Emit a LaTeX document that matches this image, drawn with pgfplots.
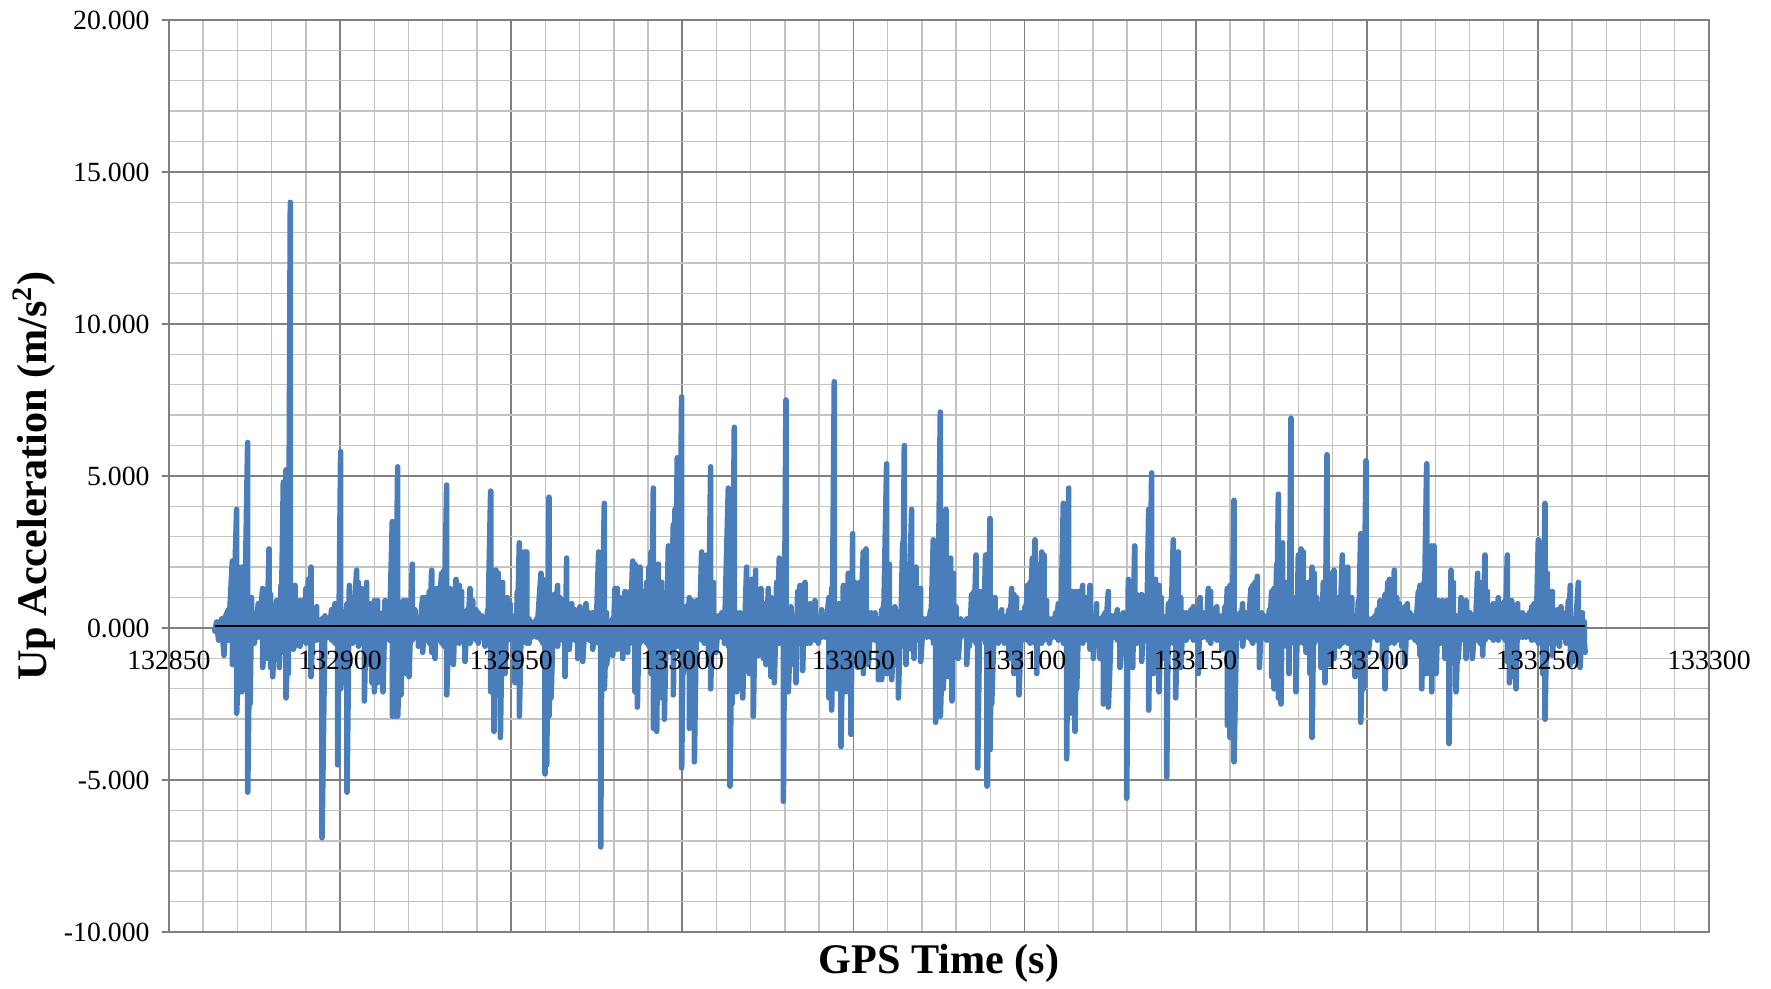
\documentclass[border=0pt]{standalone}
\usepackage{fontspec}
\setmainfont{Liberation Serif}
\usepackage{pgfplots}
\pgfplotsset{compat=1.18}
\definecolor{xlblue}{RGB}{74,126,187}
\definecolor{majgrid}{RGB}{128,128,128}
\definecolor{mingrid}{RGB}{195,195,195}
% tick labels drawn above the data, grid below it
\pgfplotsset{
  layers/labels on top/.define layer set={axis background,axis grid,axis ticks,axis lines,pre main,main,axis tick labels,axis descriptions,axis foreground}{/pgfplots/layers/standard},
}
\begin{document}
\begin{tikzpicture}
\begin{axis}[
  set layers=labels on top,
  name=ax, scale only axis, width=154mm, height=91.2mm,
  xmin=132850, xmax=133300, ymin=-10, ymax=20,
  xtick distance=50, ytick distance=5,
  minor x tick num=4, minor y tick num=4,
  grid=both,
  major grid style={majgrid, line width=0.5pt},
  minor grid style={mingrid, line width=0.4pt},
  axis line style={majgrid, line width=0.5pt},
  tick align=outside, major tick length=0.7mm, minor tick length=0pt,
  ytick pos=left, ytick style={majgrid, line width=0.5pt},
  xtick style={draw=none},
  scaled x ticks=false, scaled y ticks=false,
  /pgf/number format/assume math mode=true,
  xticklabel style={font=\fontsize{7.9}{9}\selectfont, anchor=center, yshift=27.9mm,
    /pgf/number format/.cd, fixed, precision=0, 1000 sep={}},
  yticklabel style={font=\fontsize{7.9}{9}\selectfont,
    /pgf/number format/.cd, fixed, fixed zerofill, precision=3},
  xlabel={GPS Time (s)},
  xlabel style={font=\fontsize{12}{14}\selectfont\bfseries, at={(axis description cs:0.5,0)}, anchor=center, yshift=-3.1mm},
  ylabel={Up Acceleration (m/s\textsuperscript{2})},
  ylabel style={font=\fontsize{12}{14}\selectfont\bfseries, at={(axis description cs:-0.0877,0.5)}, anchor=center},
]
% up acceleration (spike tops and bottoms)
\addplot[xlblue, line width=1.6pt, line join=round, line cap=round] coordinates {
(132863.4,-0.1)(132863.93,0.2)(132864.5,-0.4)(132865.39,0.3)(132866.07,-0.9)(132866.6,0.4)(132867.34,0.6)(132867.34,-0.4)
(132868.51,2.2)(132868.51,-1.2)(132869.77,3.9)(132869.77,-2.8)(132871.24,2.0)(132871.24,-2.1)(132872.01,1.9)(132872.01,-0.6)
(132872.99,6.1)(132872.99,-5.4)(132873.67,0.8)(132873.67,-2.5)(132874.16,1.0)(132874.16,-0.4)(132874.94,0.3)(132874.94,-0.5)
(132876.10,0.8)(132876.10,-0.3)(132877.37,1.3)(132877.37,-1.3)(132878.54,0.5)(132878.54,-1.0)(132879.22,2.6)(132879.22,-0.4)
(132879.71,1.1)(132879.71,-1.3)(132880.29,0.4)(132880.29,-1.6)(132881.46,0.9)(132881.46,-0.5)(132882.24,0.5)(132882.24,-1.3)
(132882.73,1.4)(132882.73,-0.5)(132883.41,4.8)(132883.41,-0.8)(132884.19,5.2)(132884.19,-2.3)(132884.87,0.5)(132884.87,-1.5)
(132885.46,14.0)(132885.46,-0.5)(132886.33,1.2)(132886.33,-0.7)(132886.82,1.4)(132886.82,-0.6)(132887.50,0.8)(132887.50,-0.3)
(132888.28,0.9)(132888.28,-0.6)(132889.25,0.9)(132889.25,-0.4)(132890.03,1.3)(132890.03,-0.5)(132890.72,1.6)(132890.72,-0.4)
(132891.49,2.0)(132891.49,-1.6)(132892.18,0.5)(132892.18,-0.3)(132893.15,0.7)(132893.15,-0.4)(132894.71,0.3)(132894.71,-6.9)
(132895.59,0.4)(132895.59,-0.3)(132896.56,0.3)(132896.56,-0.3)(132897.53,0.6)(132897.53,-0.4)(132898.51,0.8)(132898.51,-0.5)
(132899.29,0.3)(132899.29,-4.5)(132900.16,5.8)(132900.16,-2.0)(132902.01,0.8)(132902.01,-5.4)(132902.70,1.4)(132902.70,-0.5)
(132903.67,1.0)(132903.67,-0.5)(132904.84,1.9)(132904.84,-0.4)(132905.33,1.5)(132905.33,-0.6)(132906.20,1.3)(132906.20,-0.5)
(132907.08,0.5)(132907.08,-2.4)(132907.76,1.5)(132907.76,-0.4)(132908.54,0.8)(132908.54,-1.2)(132909.32,0.4)(132909.32,-1.8)
(132910.00,0.9)(132910.00,-2.1)(132910.97,0.9)(132910.97,-1.8)(132912.53,0.5)(132912.53,-2.1)(132913.12,0.9)(132913.12,-0.4)
(132914.38,0.6)(132914.38,-0.4)(132915.26,3.5)(132915.26,-2.9)(132916.04,0.8)(132916.04,-2.9)(132916.82,5.3)(132916.82,-2.9)
(132917.79,0.5)(132917.79,-2.2)(132918.47,0.9)(132918.47,-0.4)(132919.45,0.9)(132919.45,-1.5)(132920.13,0.4)(132920.13,-1.6)
(132921.10,2.1)(132921.10,-0.4)(132921.88,0.6)(132921.88,-0.3)(132922.86,0.3)(132922.86,-0.6)(132924.12,1.0)(132924.12,-0.8)
(132925.00,1.0)(132925.00,-0.4)(132926.07,1.2)(132926.07,-0.5)
(132926.76,1.9)(132926.76,-0.8)(132927.73,0.5)(132927.73,-1.0)(132928.22,1.3)(132928.22,-0.4)(132929.68,1.8)(132929.68,-0.5)
(132930.36,1.9)(132930.36,-0.6)(132931.14,4.7)(132931.14,-2.2)(132932.11,1.3)(132932.11,-1.0)(132933.09,0.5)(132933.09,-1.2)
(132933.87,1.6)(132933.87,-0.4)(132934.84,1.4)(132934.84,-0.5)(132935.52,1.2)(132935.52,-0.4)(132936.50,0.5)(132936.50,-1.1)
(132937.18,0.6)(132937.18,-0.4)(132937.96,1.3)(132937.96,-0.5)(132938.74,0.9)(132938.74,-0.3)(132939.71,0.6)(132939.71,-0.4)
(132940.39,0.5)(132940.39,-0.5)(132941.37,0.4)(132941.37,-0.3)(132942.34,0.3)(132942.34,-0.6)(132943.12,0.6)(132943.12,-0.4)
(132944.00,4.5)(132944.00,-2.1)(132944.97,0.5)(132944.97,-3.4)(132945.56,1.9)(132945.56,-0.6)(132946.24,1.8)(132946.24,-0.8)
(132946.82,0.5)(132946.82,-3.6)(132947.50,1.5)(132947.50,-0.5)(132948.18,0.5)(132948.18,-1.5)(132948.87,1.0)(132948.87,-0.4)
(132949.65,0.8)(132949.65,-0.3)(132950.13,0.3)(132950.13,-0.4)(132951.11,0.4)(132951.11,-1.8)(132951.79,1.2)(132951.79,-0.4)
(132952.37,2.8)(132952.37,-2.9)(132953.06,1.0)(132953.06,-0.5)(132953.83,2.5)(132953.83,-0.4)(132954.52,2.5)(132954.52,-0.5)
(132955.20,0.3)(132955.20,-0.5)(132955.98,0.2)(132955.98,-0.3)(132957.44,0.3)(132957.44,-0.3)(132958.70,1.8)(132958.70,-0.4)
(132959.19,1.6)(132959.19,-0.5)(132959.87,0.4)(132959.87,-4.8)(132960.36,0.3)(132960.36,-4.5)(132961.04,4.3)(132961.04,-2.9)
(132961.63,0.4)(132961.63,-2.3)(132962.50,1.1)(132962.50,-0.4)(132963.57,1.4)(132963.57,-0.6)(132964.26,1.0)(132964.26,-0.4)
(132965.03,0.9)(132965.03,-0.4)(132965.72,0.3)(132965.72,-1.6)(132966.20,2.3)(132966.20,-0.4)(132966.98,0.4)(132966.98,-0.7)
(132967.67,0.8)(132967.67,-0.3)(132968.64,0.6)(132968.64,-0.4)(132969.42,0.3)(132969.42,-1.0)(132970.10,0.7)(132970.10,-0.3)
(132970.88,0.6)(132970.88,-1.1)(132971.85,0.8)(132971.85,-0.3)(132972.83,0.5)(132972.83,-0.4)(132973.80,0.5)(132973.80,-0.7)
(132974.78,0.4)(132974.78,-0.3)(132975.55,2.5)(132975.55,-0.5)(132976.14,0.4)(132976.14,-7.2)(132976.53,1.5)(132976.53,-0.6)
(132977.21,4.1)(132977.21,-2.0)(132977.89,0.5)(132977.89,-1.2)(132978.87,0.2)(132978.87,-0.4)(132979.65,0.3)(132979.65,-0.9)
(132980.33,1.3)(132980.33,-0.4)(132981.01,1.3)(132981.01,-0.7)(132981.79,1.0)(132981.79,-0.4)(132982.57,0.4)(132982.57,-1.0)
(132983.25,1.2)(132983.25,-0.4)(132984.03,0.5)(132984.03,-0.8)(132984.71,1.2)(132984.71,-0.4)(132985.49,2.2)(132985.49,-0.5)
(132986.17,2.1)(132986.17,-2.1)(132986.85,0.5)(132986.85,-2.6)(132987.63,2.0)(132987.63,-0.5)(132988.61,1.2)(132988.61,-0.4)
(132989.58,1.5)(132989.58,-0.5)(132990.26,2.0)(132990.26,-0.6)(132990.85,2.5)(132990.85,-1.5)(132991.53,4.6)(132991.53,-3.3)
(132992.50,0.5)(132992.50,-3.4)(132992.99,2.1)(132992.99,-0.5)
(132993.96,1.5)(132993.96,-2.3)(132994.74,0.5)(132994.74,-3.0)(132995.42,0.9)(132995.42,-0.4)(132995.91,2.7)(132995.91,-0.5)
(132996.59,1.5)(132996.59,-0.8)(132997.37,3.4)(132997.37,-2.2)(132997.85,3.9)(132997.85,-0.5)(132998.53,5.6)(132998.53,-0.6)
(132999.12,1.5)(132999.12,-0.5)(132999.80,7.6)(132999.80,-4.6)(133000.29,0.5)(133000.29,-1.5)(133001.07,0.7)(133001.07,-1.1)
(133002.04,1.0)(133002.04,-3.3)(133002.72,0.9)(133002.72,-0.4)(133003.50,0.4)(133003.50,-4.4)(133004.18,0.9)(133004.18,-0.4)
(133004.96,0.8)(133004.96,-0.3)(133005.65,2.5)(133005.65,-0.4)(133006.42,1.0)(133006.42,-0.5)(133007.11,2.4)(133007.11,-0.4)
(133007.59,0.5)(133007.59,-1.2)(133008.27,5.3)(133008.27,-2.0)(133009.05,1.5)(133009.05,-0.5)(133009.83,0.4)(133009.83,-0.8)
(133010.61,0.4)(133010.61,-0.3)(133011.49,0.5)(133011.49,-0.3)(133012.27,0.3)(133012.27,-0.5)(133013.44,4.6)(133013.44,-0.6)
(133013.92,0.4)(133013.92,-5.2)(133014.51,0.5)(133014.51,-2.5)(133015.19,6.6)(133015.19,-0.6)(133015.87,0.5)(133015.87,-2.1)
(133016.85,0.5)(133016.85,-0.4)(133017.63,0.3)(133017.63,-2.3)(133018.79,2.0)(133018.79,-0.5)(133019.57,0.4)(133019.57,-1.5)
(133020.26,1.6)(133020.26,-0.5)(133020.74,0.4)(133020.74,-2.9)(133021.42,1.9)(133021.42,-0.5)(133022.20,0.5)(133022.20,-0.9)
(133022.98,1.3)(133022.98,-0.4)(133023.66,0.8)(133023.66,-1.0)(133024.44,0.4)(133024.44,-1.2)(133025.13,1.3)(133025.13,-0.4)
(133025.90,1.0)(133025.90,-1.6)(133026.88,0.9)(133026.88,-1.8)(133027.56,1.5)(133027.56,-0.5)(133028.34,2.3)(133028.34,-0.5)
(133029.02,1.3)(133029.02,-0.4)(133029.51,0.4)(133029.51,-5.7)(133030.29,7.5)(133030.29,-0.6)(133030.97,0.5)(133030.97,-2.1)
(133031.75,0.7)(133031.75,-0.4)(133032.43,0.4)(133032.43,-1.2)(133033.21,0.3)(133033.21,-1.8)(133033.70,1.2)(133033.70,-0.4)
(133034.38,1.4)(133034.38,-0.5)(133035.16,0.4)(133035.16,-1.4)(133035.84,1.5)(133035.84,-0.4)(133036.52,0.3)(133036.52,-0.5)
(133037.30,0.8)(133037.30,-0.5)(133038.08,0.5)(133038.08,-0.3)(133038.76,0.9)(133038.76,-0.4)(133039.74,0.3)(133039.74,-0.5)
(133040.71,0.6)(133040.71,-0.3)(133041.68,0.4)(133041.68,-0.3)(133042.85,1.0)(133042.85,-2.3)(133043.63,1.3)(133043.63,-2.7)
(133044.41,8.1)(133044.41,-0.6)(133045.09,0.5)(133045.09,-2.0)(133045.77,0.8)(133045.77,-0.4)(133046.36,0.4)(133046.36,-3.9)
(133047.04,1.4)(133047.04,-0.5)(133047.82,1.4)(133047.82,-2.1)(133048.50,1.8)(133048.50,-0.5)(133049.28,0.4)(133049.28,-3.5)
(133049.77,3.1)(133049.77,-0.5)(133050.45,1.5)(133050.45,-0.4)(133051.23,0.4)(133051.23,-1.3)(133051.91,1.5)(133051.91,-0.4)
(133052.88,2.5)(133052.88,-1.5)(133053.66,2.6)(133053.66,-0.5)(133054.35,0.3)(133054.35,-1.2)(133055.12,0.5)(133055.12,-0.3)
(133056.29,0.5)(133056.29,-0.4)(133057.27,0.3)(133057.27,-1.7)(133058.24,0.6)(133058.24,-1.7)(133058.73,0.7)(133058.73,-0.4)
(133059.70,5.4)(133059.70,-1.5)(133060.48,2.1)(133060.48,-0.5)(133061.16,0.4)(133061.16,-1.7)
(133062.14,0.7)(133062.14,-1.2)(133063.12,0.4)(133063.12,-2.3)(133063.80,0.6)(133063.80,-0.4)(133064.38,2.8)(133064.38,-0.5)
(133064.87,6.0)(133064.87,-0.6)(133065.36,0.4)(133065.36,-1.2)(133066.04,2.1)(133066.04,-0.4)(133067.01,3.9)(133067.01,-0.7)
(133067.69,0.4)(133067.69,-1.0)(133068.28,2.0)(133068.28,-0.4)(133068.96,1.2)(133068.96,-0.4)(133069.64,1.3)(133069.64,-1.1)
(133070.42,0.3)(133070.42,-0.3)(133071.39,0.3)(133071.39,-0.3)(133072.56,0.6)(133072.56,-0.3)(133073.34,2.9)(133073.34,-0.5)
(133074.02,0.5)(133074.02,-3.1)(133074.61,2.6)(133074.61,-0.5)(133075.39,7.1)(133075.39,-2.9)(133076.26,0.5)(133076.26,-2.0)
(133077.04,3.9)(133077.04,-0.5)(133077.73,0.4)(133077.73,-1.6)(133078.41,2.3)(133078.41,-0.4)(133078.80,0.3)(133078.80,-2.4)
(133079.19,1.8)(133079.19,-0.4)(133079.97,0.7)(133079.97,-0.3)(133080.65,0.3)(133080.65,-1.0)(133081.33,0.3)(133081.33,-0.3)
(133082.11,0.2)(133082.11,-0.2)(133083.08,0.3)(133083.08,-1.2)(133083.86,0.3)(133083.86,-0.6)(133084.54,1.1)(133084.54,-0.3)
(133085.22,1.2)(133085.22,-0.4)(133085.81,2.4)(133085.81,-0.5)(133086.30,0.4)(133086.30,-4.6)(133086.98,1.2)(133086.98,-0.4)
(133087.95,0.3)(133087.95,-0.3)(133088.63,2.4)(133088.63,-0.5)(133089.02,0.4)(133089.02,-5.2)(133089.41,1.2)(133089.41,-0.4)
(133089.90,3.6)(133089.90,-4.0)(133090.39,0.5)(133090.39,-2.5)(133091.36,1.0)(133091.36,-0.4)(133092.34,0.5)(133092.34,-0.5)
(133093.31,0.6)(133093.31,-0.3)(133094.09,0.3)(133094.09,-0.5)(133094.77,0.4)(133094.77,-0.3)(133095.45,0.6)(133095.45,-1.0)
(133096.23,1.3)(133096.23,-0.4)(133096.91,1.1)(133096.91,-1.5)(133097.69,1.0)(133097.69,-1.2)(133098.37,0.3)(133098.37,-2.2)
(133099.15,0.5)(133099.15,-0.4)(133100.13,0.7)(133100.13,-0.3)(133100.81,1.4)(133100.81,-0.4)(133101.59,1.5)(133101.59,-0.5)
(133102.27,2.3)(133102.27,-0.4)(133103.05,2.9)(133103.05,-0.5)(133103.54,0.4)(133103.54,-1.5)(133104.32,2.1)(133104.32,-0.4)
(133105.00,2.5)(133105.00,-0.5)(133105.68,2.4)(133105.68,-0.4)(133106.46,0.9)(133106.46,-0.3)(133107.24,0.3)(133107.24,-0.5)
(133108.21,0.3)(133108.21,-0.3)(133109.09,0.5)(133109.09,-0.3)(133109.87,0.8)(133109.87,-0.4)(133110.55,0.7)(133110.55,-0.3)
(133111.33,4.1)(133111.33,-0.5)(133112.30,0.4)(133112.30,-4.3)(133112.89,4.6)(133112.89,-0.5)(133113.57,0.4)(133113.57,-2.8)
(133114.06,1.2)(133114.06,-0.4)(133114.74,0.3)(133114.74,-3.4)(133115.22,1.2)(133115.22,-2.0)(133116.00,1.2)(133116.00,-0.4)
(133116.98,1.4)(133116.98,-0.5)(133117.66,1.0)(133117.66,-0.4)(133118.34,0.5)(133118.34,-0.3)(133119.12,1.4)(133119.12,-0.7)
(133120.09,0.3)(133120.09,-1.0)(133121.07,0.8)(133121.07,-0.4)(133122.04,0.3)(133122.04,-1.0)(133123.02,0.4)(133123.02,-2.5)
(133123.50,0.5)(133123.50,-0.4)(133124.48,1.2)(133124.48,-2.6)(133125.45,0.4)(133125.45,-0.3)(133126.13,0.4)(133126.13,-0.3)
(133127.11,0.6)(133127.11,-0.4)(133127.89,0.3)(133127.89,-1.3)(133128.86,0.5)(133128.86,-0.4)(133129.84,0.3)(133129.84,-5.6)
(133130.33,1.6)(133130.33,-0.4)(133131.01,1.0)(133131.01,-1.2)(133131.59,0.4)(133131.59,-1.3)(133132.18,2.7)(133132.18,-0.4)
(133132.76,1.1)(133132.76,-0.5)(133133.54,0.3)(133133.54,-0.4)(133134.22,1.1)(133134.22,-1.1)(133134.90,0.6)(133134.90,-0.3)
(133135.68,0.5)(133135.68,-0.4)(133136.27,3.9)(133136.27,-2.7)(133137.14,5.1)(133137.14,-0.5)(133137.63,0.4)(133137.63,-1.5)
(133138.31,1.6)(133138.31,-0.4)(133138.80,0.4)(133138.80,-1.3)(133139.29,1.4)(133139.29,-2.1)(133139.97,1.0)(133139.97,-0.4)
(133140.75,0.3)(133140.75,-1.0)(133141.53,0.4)(133141.53,-4.9)(133142.01,0.8)(133142.01,-0.4)(133142.69,0.9)(133142.69,-0.3)
(133143.47,2.9)(133143.47,-0.5)(133144.16,0.4)(133144.16,-2.3)(133144.93,2.5)(133144.93,-0.5)(133145.62,1.0)(133145.62,-1.3)
(133146.40,0.5)(133146.40,-0.3)(133147.18,0.5)(133147.18,-0.4)(133147.86,0.1)(133147.86,-0.3)(133148.64,0.6)(133148.64,-0.3)
(133149.32,0.7)(133149.32,-0.4)(133150.10,0.6)(133150.10,-0.3)(133150.78,0.3)(133150.78,-1.5)(133151.27,1.0)(133151.27,-0.3)
(133152.05,0.5)(133152.05,-0.3)(133153.02,0.3)(133153.02,-0.3)(133153.70,1.3)(133153.70,-0.4)(133154.38,1.2)(133154.38,-0.5)
(133155.16,0.6)(133155.16,-0.3)(133156.14,0.7)(133156.14,-0.4)(133156.92,0.4)(133156.92,-0.3)(133157.60,0.3)(133157.60,-0.7)
(133158.57,0.7)(133158.57,-0.3)(133159.25,1.3)(133159.25,-3.2)(133160.03,1.4)(133160.03,-3.6)(133160.52,0.4)(133160.52,-1.8)
(133161.20,4.2)(133161.20,-4.4)(133161.98,0.3)(133161.98,-0.4)(133162.95,0.5)(133162.95,-0.3)(133163.73,0.8)(133163.73,-0.6)
(133164.41,0.5)(133164.41,-0.3)(133165.19,0.2)(133165.19,-0.3)(133166.17,1.3)(133166.17,-0.4)(133166.66,1.4)(133166.66,-0.5)
(133167.34,1.5)(133167.34,-0.3)(133168.02,1.7)(133168.02,-0.4)(133168.60,0.3)(133168.60,-1.3)(133169.29,0.5)(133169.29,-0.3)
(133170.06,0.2)(133170.06,-0.3)(133170.75,0.4)(133170.75,-0.4)(133171.53,0.6)(133171.53,-0.3)(133172.21,1.2)(133172.21,-1.6)
(133172.89,1.3)(133172.89,-2.0)(133173.67,2.1)(133173.67,-0.5)(133174.16,4.4)(133174.16,-2.3)(133174.93,0.4)(133174.93,-2.5)
(133175.42,2.8)(133175.42,-0.5)(133176.10,1.5)(133176.10,-0.4)(133176.59,0.3)(133176.59,-0.6)(133177.27,0.4)(133177.27,-1.5)
(133177.86,6.9)(133177.86,-0.5)(133178.54,1.0)(133178.54,-0.4)(133179.32,0.4)(133179.32,-2.1)(133180.00,2.4)(133180.00,-0.5)
(133180.78,2.6)(133180.78,-0.4)(133181.46,2.5)(133181.46,-0.5)(133182.24,1.3)(133182.24,-0.8)(133182.92,1.5)(133182.92,-0.4)
(133183.41,0.3)(133183.41,-1.5)(133183.99,2.0)(133183.99,-3.6)(133184.67,1.8)(133184.67,-0.5)(133185.36,1.0)(133185.36,-0.4)
(133186.04,0.6)(133186.04,-0.3)(133186.62,0.3)(133186.62,-1.3)(133187.30,1.5)(133187.30,-0.4)(133187.79,0.3)(133187.79,-1.8)
(133188.38,5.7)(133188.38,-0.5)(133189.06,0.4)(133189.06,-1.2)(133189.74,1.8)(133189.74,-0.4)(133190.42,1.9)(133190.42,-1.0)
(133191.20,1.0)(133191.20,-0.4)(133191.98,0.3)(133191.98,-0.6)(133192.86,2.4)(133192.86,-0.5)(133193.64,1.8)(133193.64,-0.4)
(133194.42,2.0)(133194.42,-0.5)(133195.10,0.9)(133195.10,-0.4)
(133195.59,1.0)(133195.59,-0.8)(133196.56,0.4)(133196.56,-1.6)(133197.54,0.9)(133197.54,-0.4)(133198.22,3.1)(133198.22,-3.1)
(133199.00,0.4)(133199.00,-2.0)(133199.78,5.5)(133199.78,-0.5)(133200.46,0.3)(133200.46,-0.8)(133201.43,0.3)(133201.43,-0.3)
(133202.41,0.4)(133202.41,-0.3)(133203.09,0.6)(133203.09,-0.4)(133203.87,0.9)(133203.87,-0.3)(133204.55,0.8)(133204.55,-1.0)
(133205.33,1.1)(133205.33,-2.0)(133206.11,1.5)(133206.11,-0.4)(133206.59,1.6)(133206.59,-0.5)(133207.28,1.3)(133207.28,-0.4)
(133208.05,1.9)(133208.05,-0.5)(133208.74,1.0)(133208.74,-0.4)(133209.52,0.8)(133209.52,-0.3)(133210.20,0.3)(133210.20,-0.6)
(133211.17,0.7)(133211.17,-1.2)(133211.85,0.8)(133211.85,-0.3)(133212.63,0.5)(133212.63,-0.3)(133213.41,0.4)(133213.41,-0.3)
(133214.09,0.3)(133214.09,-0.4)(133215.07,1.2)(133215.07,-0.5)(133215.55,1.4)(133215.55,-0.9)(133216.04,0.4)(133216.04,-2.0)
(133216.72,1.5)(133216.72,-0.4)(133217.50,5.4)(133217.50,-1.5)(133218.28,1.9)(133218.28,-0.5)(133218.96,2.7)(133218.96,-2.1)
(133219.64,2.7)(133219.64,-0.5)(133220.23,0.3)(133220.23,-1.5)(133220.91,0.9)(133220.91,-0.4)(133221.40,0.3)(133221.40,-0.5)
(133222.08,0.9)(133222.08,-0.3)(133222.86,0.3)(133222.86,-1.0)(133223.35,0.9)(133223.35,-0.4)(133224.03,0.4)(133224.03,-3.8)
(133224.61,1.9)(133224.61,-0.5)(133225.29,1.5)(133225.29,-0.4)(133226.07,0.4)(133226.07,-2.1)(133226.76,0.3)(133226.76,-1.0)
(133227.53,1.0)(133227.53,-0.4)(133228.22,0.8)(133228.22,-0.3)(133229.00,0.9)(133229.00,-1.0)(133229.68,0.3)(133229.68,-0.5)
(133230.16,0.5)(133230.16,-0.3)(133230.85,0.3)(133230.85,-1.0)(133231.63,0.3)(133231.63,-0.3)(133232.40,1.8)(133232.40,-0.4)
(133233.09,1.5)(133233.09,-0.5)(133233.87,0.3)(133233.87,-0.9)(133234.55,2.4)(133234.55,-0.4)(133235.23,1.2)(133235.23,-0.3)
(133236.01,0.5)(133236.01,-0.3)(133236.98,0.8)(133236.98,-0.4)(133237.76,0.8)(133237.76,-0.3)(133238.44,1.0)(133238.44,-0.4)
(133239.12,0.8)(133239.12,-0.3)(133239.71,0.5)(133239.71,-0.3)(133240.39,0.9)(133240.39,-0.4)(133241.07,2.4)(133241.07,-1.1)
(133241.66,0.4)(133241.66,-1.8)(133242.34,0.9)(133242.34,-0.4)(133243.02,0.3)(133243.02,-1.6)(133243.61,0.3)(133243.61,-2.0)
(133244.09,0.8)(133244.09,-0.3)(133244.77,0.5)(133244.77,-0.3)(133245.55,0.5)(133245.55,-0.3)(133246.53,0.4)(133246.53,-0.3)
(133247.50,0.5)(133247.50,-0.3)(133248.18,0.7)(133248.18,-0.4)(133248.86,0.8)(133248.86,-0.3)(133249.45,0.7)(133249.45,-0.4)
(133250.13,2.9)(133250.13,-0.5)(133250.81,2.8)(133250.81,-0.4)(133251.40,0.3)(133251.40,-1.5)(133252.08,4.1)(133252.08,-3.0)
(133252.76,1.8)(133252.76,-0.5)(133253.54,1.0)(133253.54,-0.4)(133254.22,1.2)(133254.22,-0.9)(133255.00,0.3)(133255.00,-0.5)
(133255.68,0.6)(133255.68,-0.3)(133256.27,0.3)(133256.27,-0.6)(133256.75,0.7)(133256.75,-0.3)(133257.44,0.5)(133257.44,-0.3)
(133258.22,0.3)(133258.22,-0.5)(133258.90,0.9)(133258.90,-0.3)(133259.48,1.4)(133259.48,-1.2)(133260.16,0.3)(133260.16,-1.1)
(133260.85,0.3)(133260.85,-0.3)(133261.82,1.5)(133261.82,-0.9)(133262.31,0.3)(133262.31,-1.3)(133262.99,0.5)(133262.99,-0.3)
(133263.57,0.2)(133263.57,-0.5)(133263.8,-0.8)
};
% line along zero, over the data span
\addplot[black, line width=0.7pt] coordinates {(132863.4,0.07)(133263.8,0.07)};
\end{axis}
\pgfresetboundingbox
\path ([xshift=-16.9mm,yshift=-5.6mm]ax.south west) rectangle ([xshift=6.2mm,yshift=2.0mm]ax.north east);
\end{tikzpicture}
\end{document}
